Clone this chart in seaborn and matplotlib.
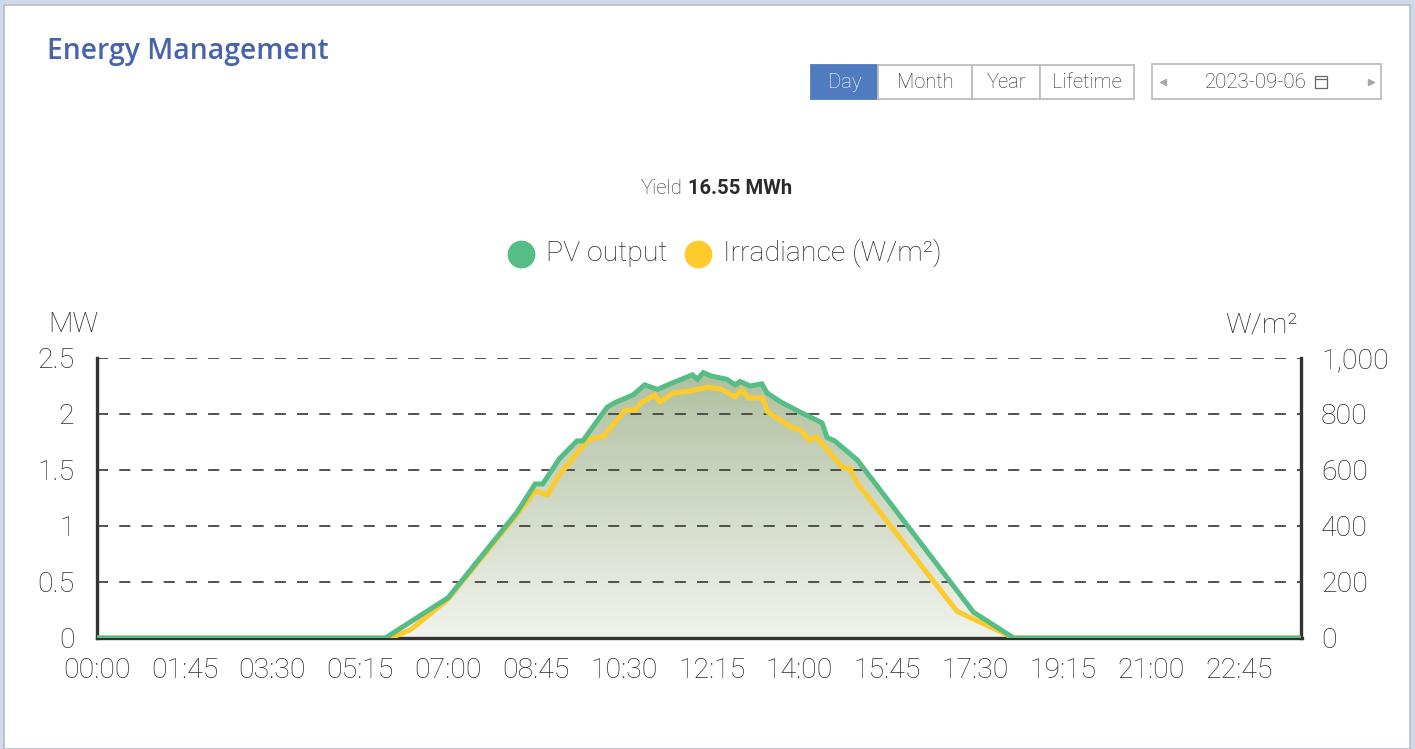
import numpy as np
import matplotlib
matplotlib.use("Agg")
import matplotlib.pyplot as plt
import seaborn as sns
from matplotlib.colors import LinearSegmentedColormap
from matplotlib.patches import Rectangle
from matplotlib.lines import Line2D

# PV output (MW), time in minutes after midnight
pv_time = [0, 345, 420, 502, 524, 533, 553, 574, 581, 610, 619, 641, 655, 670,
           689, 712, 718, 725, 734, 753, 763, 769, 781, 795, 801, 817, 840, 867,
           873, 882, 909, 1048, 1096, 1440]
pv_mw = [0, 0, 0.36, 1.12, 1.375, 1.375, 1.60, 1.76, 1.76, 2.06, 2.10, 2.17, 2.26, 2.22,
         2.28, 2.35, 2.31, 2.37, 2.34, 2.31, 2.26, 2.29, 2.25, 2.27, 2.19, 2.11, 2.02, 1.92,
         1.79, 1.76, 1.59, 0.23, 0, 0]

# Irradiance (W/m2)
irr_time = [0, 351, 375, 420, 502, 524, 539, 551, 587, 606, 632, 644, 650, 667, 673,
            689, 710, 730, 746, 763, 771, 779, 796, 802, 832, 840, 852, 860, 892, 900,
            910, 920, 1028, 1096, 1440]
irr_wm2 = [0, 0, 29, 139, 440, 525, 511, 575, 707, 721, 814, 814, 839, 868, 843,
           875, 882, 896, 889, 861, 886, 857, 857, 807, 750, 745, 707, 718, 607, 607,
           546, 511, 96, 0, 0]

tick_minutes = list(range(0, 1440, 105))
tick_labels = ["%02d:%02d" % (m // 60, m % 60) for m in tick_minutes]
mw_ticks = [0, 0.5, 1, 1.5, 2, 2.5]
mw_labels = ["0", "0.5", "1", "1.5", "2", "2.5"]
irr_ticks = [0, 200, 400, 600, 800, 1000]
irr_labels = ["0", "200", "400", "600", "800", "1,000"]

GREEN = "#55bd85"
YELLOW = "#fdcb2c"
DARK = "#333333"
TXT = "#2a2a2a"

sns.set_style("white")
plt.rcParams["font.family"] = ["Roboto", "DejaVu Sans"]
plt.rcParams["lines.scale_dashes"] = False

W, H = 1415, 749
fig = plt.figure(figsize=(W / 100, H / 100), dpi=100)
fig.patch.set_facecolor("#cfd9ea")


def fx(x):
    return x / W


def fy(y):
    return 1 - y / H


# card
fig.add_artist(Rectangle((fx(4), 0), fx(1410) - fx(4), fy(5), transform=fig.transFigure,
                         facecolor="white", edgecolor="#b9bcc2", lw=1.2, zorder=0))

fig.text(fx(47), fy(52), "Energy Management", color="#4664ad", fontsize=20.3,
         family=["Open Sans", "DejaVu Sans"], fontweight="semibold", va="center", ha="left")

# period buttons
buttons = [("Day", 811, 878), ("Month", 878, 972), ("Year", 972, 1040), ("Lifetime", 1040, 1134)]
for name, x0, x1 in buttons:
    active = name == "Day"
    fig.add_artist(Rectangle((fx(x0), fy(99)), fx(x1) - fx(x0), fy(65) - fy(99),
                             transform=fig.transFigure,
                             facecolor="#4f7bbf" if active else "white",
                             edgecolor="#4f7bbf" if active else "#bdbdbd", lw=1.3))
    fig.text(fx((x0 + x1) / 2), fy(82), name, ha="center", va="center", fontsize=14.5,
             fontweight="light", color="white" if active else TXT)

# date picker
fig.add_artist(Rectangle((fx(1152), fy(99)), fx(1381) - fx(1152), fy(64) - fy(99),
                         transform=fig.transFigure, facecolor="white", edgecolor="#bdbdbd", lw=1.3))
fig.text(fx(1256), fy(82), "2023-09-06", ha="center", va="center", fontsize=14.8,
         fontweight="light", color=TXT)
fig.add_artist(Rectangle((fx(1315), fy(88)), fx(1327) - fx(1315), fy(76) - fy(88),
                         transform=fig.transFigure, facecolor="none", edgecolor="#666666", lw=0.9))
fig.add_artist(Line2D([fx(1315), fx(1327)], [fy(79), fy(79)], transform=fig.transFigure,
                      color="#666666", lw=0.9))
fig.add_artist(Line2D([fx(1163)], [fy(82)], transform=fig.transFigure, marker="<",
                      markersize=5, color="#a8a8a8", lw=0))
fig.add_artist(Line2D([fx(1371)], [fy(82)], transform=fig.transFigure, marker=">",
                      markersize=5, color="#a8a8a8", lw=0))

# yield
fig.text(fx(683), fy(188), "Yield", ha="right", va="center", fontsize=14.6,
         fontweight="light", color=TXT)
fig.text(fx(688), fy(188), "16.55 MWh", ha="left", va="center", fontsize=14.6,
         fontweight="bold", color=TXT)

# legend
for cx, col, label in [(521, GREEN, "PV output"), (698, YELLOW, "Irradiance (W/m²)")]:
    fig.add_artist(Line2D([fx(cx)], [fy(254)], transform=fig.transFigure, marker="o",
                          markersize=19, color=col, lw=0))
    fig.text(fx(cx + 25), fy(253), label, ha="left", va="center", fontsize=20.5,
             fontweight="light", color=TXT)

# axes
left, right, bottom, top = 96.7, 1301.5, 638, 358
ax = fig.add_axes([fx(left), fy(bottom), fx(right) - fx(left), fy(top) - fy(bottom)])
ax.set_facecolor("none")
ax2 = ax.twinx()
ax3 = ax.twinx()

# gradient fill under PV curve
cmap = LinearSegmentedColormap.from_list("fill", ["#f1f3ee", "#b0c09f"])
grad = np.linspace(0, 1, 256).reshape(-1, 1)
im = ax.imshow(grad, extent=[0, 1440, 0, max(pv_mw)], origin="lower", aspect="auto",
               cmap=cmap, zorder=0.5)
poly = ax.fill_between(pv_time, pv_mw, 0, color="none", lw=0)
im.set_clip_path(poly.get_paths()[0], transform=ax.transData)

sns.lineplot(x=irr_time, y=irr_wm2, ax=ax2, color=YELLOW, linewidth=3.6)
sns.lineplot(x=pv_time, y=pv_mw, ax=ax3, color=GREEN, linewidth=3.6)
ax2.lines[0].set_solid_joinstyle("miter")
ax3.lines[0].set_solid_joinstyle("miter")

for a in (ax, ax2, ax3):
    a.set_xlim(0, 1440)
    a.set_xlabel("")
    a.set_ylabel("")
ax.set_ylim(0, 2.5)
ax3.set_ylim(0, 2.5)
ax2.set_ylim(0, 1000)
ax3.axis("off")

ax.set_axisbelow(False)
ax.yaxis.grid(True, linestyle=(0, (8, 8)), color="#444444", lw=1.3, zorder=0.8)
ax.set_yticks(mw_ticks)
ax.set_yticklabels(mw_labels)
ax2.set_yticks(irr_ticks)
ax2.set_yticklabels(irr_labels)
ax.set_xticks(tick_minutes)
ax.set_xticklabels(tick_labels)

for a in (ax, ax2):
    for s in a.spines.values():
        s.set_visible(False)
    a.patch.set_visible(False)
ax.spines["left"].set_visible(True)
ax.spines["bottom"].set_visible(True)
ax2.spines["right"].set_visible(True)
for s in (ax.spines["left"], ax.spines["bottom"], ax2.spines["right"]):
    s.set_color(DARK)
    s.set_linewidth(2.4)
    s.set_zorder(5)

ax.tick_params(axis="x", length=6, width=1.8, color=DARK, pad=8, labelsize=20.5,
               labelcolor=TXT, direction="out")
ax.tick_params(axis="y", length=0, pad=16, labelsize=20.5, labelcolor=TXT)
ax2.tick_params(axis="y", length=0, pad=14, labelsize=20.5, labelcolor=TXT)
for lab in ax.get_xticklabels() + ax.get_yticklabels() + ax2.get_yticklabels():
    lab.set_fontweight("light")

fig.text(fx(48), fy(325), "MW", ha="left", va="center", fontsize=20.5, fontweight="light", color=TXT)
fig.text(fx(1298), fy(325), "W/m²", ha="right", va="center", fontsize=20.5, fontweight="light", color=TXT)

fig.savefig("out.png", dpi=100, facecolor=fig.get_facecolor())
